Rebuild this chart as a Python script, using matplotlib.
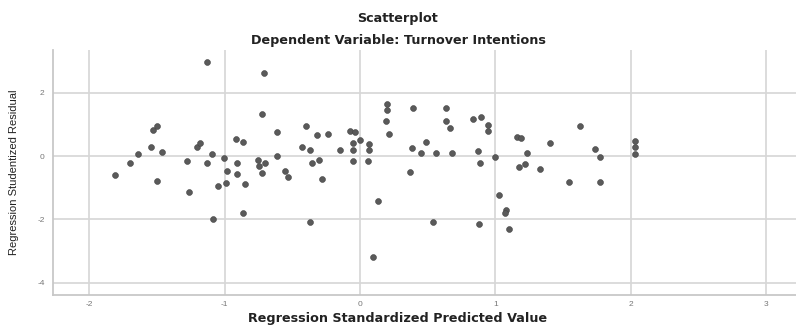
import matplotlib
matplotlib.use("Agg")
import matplotlib.pyplot as plt

plt.rcParams['font.family'] = ['Liberation Sans', 'DejaVu Sans']

predicted = [
    -1.809, -1.699, -1.643, -1.546, -1.532, -1.501, -1.462, -1.499, -1.281, -1.261,
    -1.206, -1.185, -1.128, -1.128, -1.091, -1.082, -1.045, -1.004, -0.990, -0.984,
    -0.916, -0.862, -0.911, -0.911, -0.849, -0.862, -0.751, -0.698, -0.746, -0.722,
    -0.709, -0.720, -0.613, -0.613, -0.554, -0.530, -0.399, -0.428, -0.369, -0.314,
    -0.233, -0.358, -0.301, -0.283, -0.371, -0.144, -0.074, -0.037, 0.000, -0.052,
    -0.049, -0.049, 0.070, 0.070, 0.061, 0.096, 0.131, 0.203, 0.203, 0.192,
    0.216, 0.391, 0.383, 0.369, 0.454, 0.491, 0.561, 0.537, 0.635, 0.635,
    0.668, 0.683, 0.835, 0.897, 0.945, 0.945, 0.875, 0.886, 0.880, 0.997,
    1.023, 1.075, 1.071, 1.100, 1.156, 1.189, 1.230, 1.174, 1.222, 1.329,
    1.403, 1.546, 1.625, 1.736, 1.773, 1.773, 2.031, 2.031, 2.031,
]
residual = [
    -0.60, -0.21, 0.06, 0.29, 0.83, 0.95, 0.14, -0.78, -0.16, -1.15,
    0.30, 0.42, 2.98, -0.23, 0.06, -2.00, -0.94, -0.06, -0.84, -0.47,
    0.53, 0.45, -0.23, -0.58, -0.88, -1.79, -0.13, -0.21, -0.32, -0.55,
    2.61, 1.33, 0.77, 0.01, -0.46, -0.67, 0.96, 0.27, 0.19, 0.65,
    0.69, -0.21, -0.12, -0.73, -2.07, 0.18, 0.80, 0.76, 0.50, 0.40,
    0.20, -0.17, 0.37, 0.19, -0.17, -3.20, -1.41, 1.66, 1.47, 1.10,
    0.69, 1.51, 0.24, -0.50, 0.10, 0.43, 0.11, -2.08, 1.52, 1.11,
    0.89, 0.09, 1.16, 1.22, 0.97, 0.78, 0.17, -0.23, -2.15, -0.04,
    -1.23, -1.69, -1.81, -2.31, 0.61, 0.57, 0.10, -0.36, -0.25, -0.42,
    0.40, -0.81, 0.96, 0.21, -0.04, -0.81, 0.47, 0.27, 0.07,
]
x_ticks = [-2, -1, 0, 1, 2, 3]
y_ticks = [-4, -2, 0, 2]

wide = ['DejaVu Sans']

fig = plt.figure(figsize=(7.96, 3.27), dpi=100)
ax = fig.add_axes([0.0666, 0.098, 0.9334, 0.749])

ax.scatter(predicted, residual, s=18, color='#5a5a5a', edgecolors='#444444',
           linewidths=0.4, zorder=3)

ax.set_xlim(-2.267, 3.22)
ax.set_ylim(-4.39, 3.35)
ax.set_xticks(x_ticks)
ax.set_yticks(y_ticks)
ax.set_xticklabels([str(t) for t in x_ticks])
ax.set_yticklabels([str(t) for t in y_ticks])
ax.grid(True, color='#d6d6d6', linewidth=1.2, zorder=0)
ax.set_axisbelow(True)
ax.tick_params(length=0, labelsize=6, colors='#777777')
ax.tick_params(axis='x', pad=4)
ax.tick_params(axis='y', pad=6)

for side in ['top', 'right']:
    ax.spines[side].set_visible(False)
for side in ['left', 'bottom']:
    ax.spines[side].set_color('#c8c8c8')
    ax.spines[side].set_linewidth(1.3)

ax.set_ylabel('Regression Studentized Residual', fontsize=8,
              color='#222222', labelpad=13)

fig.text(0.5, 0.006, 'Regression Standardized Predicted Value', ha='center',
         va='bottom', fontsize=9.2, fontweight='bold', color='#222222',
         family=wide)
fig.text(0.5, 0.942, 'Scatterplot', ha='center', va='center', fontsize=9.2,
         fontweight='bold', color='#222222', family=wide)
fig.text(0.5, 0.877, 'Dependent Variable: Turnover Intentions', ha='center',
         va='center', fontsize=9.2, fontweight='bold', color='#222222',
         family=wide)

fig.savefig('out.png', dpi=100)
